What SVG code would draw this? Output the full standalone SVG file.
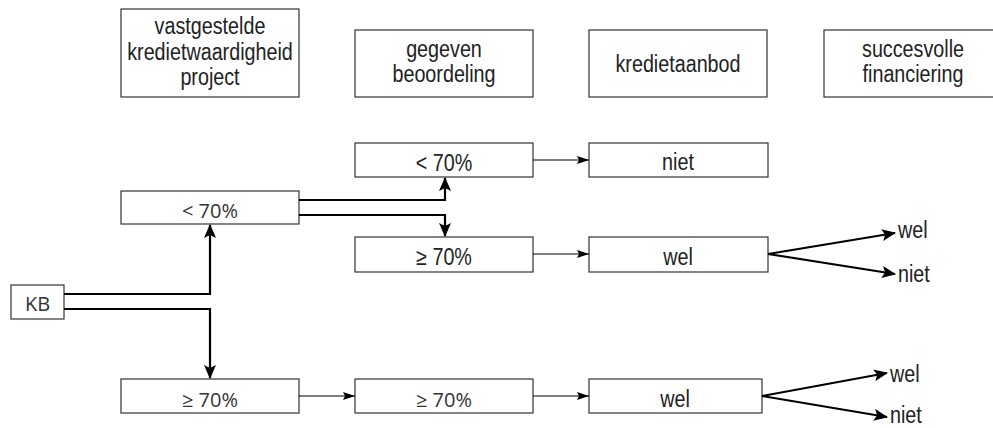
<svg xmlns="http://www.w3.org/2000/svg" width="993" height="428" viewBox="0 0 993 428">
<style>
.box{fill:#fff;stroke:#333;stroke-width:1.2}
.n{font-family:"Liberation Sans",Arial,sans-serif;font-size:23.5px;fill:#222;text-anchor:middle}
.s{font-family:"Open Sans","DejaVu Sans",sans-serif;font-size:20px;fill:#333;text-anchor:middle}
.lab{font-family:"Liberation Sans",Arial,sans-serif;font-size:23.5px;fill:#222}
.thick{fill:none;stroke:#000;stroke-width:2.2}
.thin{fill:none;stroke:#000;stroke-width:1.2}
</style>
<defs>
<marker id="ah" markerUnits="userSpaceOnUse" markerWidth="14" markerHeight="12" viewBox="0 0 14 12" refX="13" refY="6" orient="auto"><path d="M0,0 L14,6 L0,12 L3,6 Z" fill="#000"/></marker>
<marker id="at" markerUnits="userSpaceOnUse" markerWidth="12" markerHeight="10" viewBox="0 0 12 10" refX="12" refY="5" orient="auto"><path d="M0,1 L12,5 L0,9 L2,5 Z" fill="#000"/></marker>
</defs>
<g id="h1"><rect class="box" x="121" y="9" width="178" height="88"/><text class="n" transform="translate(210,34) scale(0.84,1)">vastgestelde</text><text class="n" transform="translate(210,60) scale(0.84,1)">kredietwaardigheid</text><text class="n" transform="translate(210,85) scale(0.84,1)">project</text></g>
<g id="h2"><rect class="box" x="355" y="30" width="178" height="67"/><text class="n" transform="translate(444,57) scale(0.84,1)">gegeven</text><text class="n" transform="translate(444,82) scale(0.84,1)">beoordeling</text></g>
<g id="h3"><rect class="box" x="589" y="30" width="178" height="67"/><text class="n" transform="translate(678,72) scale(0.84,1)">kredietaanbod</text></g>
<g id="h4"><rect class="box" x="824" y="30" width="178" height="67"/><text class="n" transform="translate(913,57) scale(0.84,1)">succesvolle</text><text class="n" transform="translate(913,82) scale(0.84,1)">financiering</text></g>
<g id="kb"><rect class="box" x="11" y="285" width="53" height="34"/><text class="s" x="37.5" y="311">KB</text></g>
<g id="l1"><rect class="box" x="121" y="191" width="178" height="33"/><text class="s" x="210" y="218">&lt; 70%</text></g>
<g id="l2"><rect class="box" x="121" y="379" width="178" height="34"/><text class="s" x="210" y="407">≥ 70%</text></g>
<g id="m1"><rect class="box" x="355" y="143" width="178" height="34"/><text class="n" transform="translate(444,171) scale(0.84,1)">&lt; 70%</text></g>
<g id="m2"><rect class="box" x="355" y="237" width="178" height="35"/><text class="n" transform="translate(444,265) scale(0.84,1)">≥ 70%</text></g>
<g id="m3"><rect class="box" x="355" y="379" width="178" height="34"/><text class="s" x="444" y="407">≥ 70%</text></g>
<g id="k1"><rect class="box" x="589" y="143" width="179" height="34"/><text class="n" transform="translate(678,170) scale(0.84,1)">niet</text></g>
<g id="k2"><rect class="box" x="589" y="237" width="179" height="35"/><text class="n" transform="translate(678,265) scale(0.84,1)">wel</text></g>
<g id="k3"><rect class="box" x="589" y="379" width="173" height="34"/><text class="n" transform="translate(675,407) scale(0.84,1)">wel</text></g>
<g id="f1"><text class="lab" transform="translate(898,238) scale(0.84,1)">wel</text><text class="lab" transform="translate(898,282) scale(0.84,1)">niet</text></g>
<g id="f2"><text class="lab" transform="translate(890,382) scale(0.84,1)">wel</text><text class="lab" transform="translate(890,423) scale(0.84,1)">niet</text></g>
<g id="connectors">
<path class="thick" d="M64,294 H210 V225" marker-end="url(#ah)"/>
<path class="thick" d="M64,309 H210 V378" marker-end="url(#ah)"/>
<path class="thick" d="M299,200 H445 V178" marker-end="url(#ah)"/>
<path class="thick" d="M299,215 H445 V236" marker-end="url(#ah)"/>
<path class="thin" d="M533,160 H589" marker-end="url(#at)"/>
<path class="thin" d="M533,254 H589" marker-end="url(#at)"/>
<path class="thin" d="M299,396 H355" marker-end="url(#at)"/>
<path class="thin" d="M533,396 H589" marker-end="url(#at)"/>
<path class="thick" d="M768,254 L895,233" marker-end="url(#ah)"/>
<path class="thick" d="M768,254 L895,274" marker-end="url(#ah)"/>
<path class="thick" d="M762,396 L887,373" marker-end="url(#ah)"/>
<path class="thick" d="M762,396 L887,417" marker-end="url(#ah)"/>
</g>
</svg>
